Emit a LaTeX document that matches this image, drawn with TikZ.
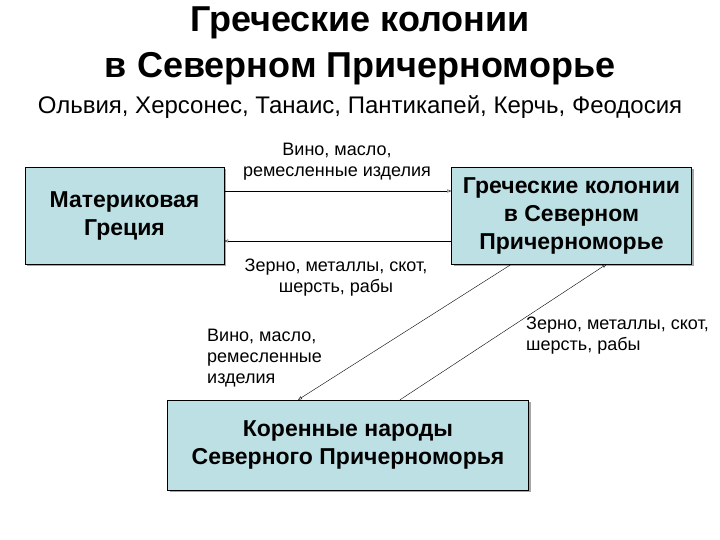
\documentclass[tikz,border=0pt]{standalone}
\usepackage{fontspec}
\setmainfont{Liberation Sans}
\usetikzlibrary{arrows.meta,shadows}
\definecolor{boxfill}{RGB}{189,224,228}
\tikzstyle{block} = [draw, fill=boxfill, rectangle, align=center,
    font=\fontsize{23}{28}\selectfont\bfseries,
    drop shadow={shadow xshift=2pt, shadow yshift=-2pt, fill=gray!70, opacity=1}]
\tikzstyle{goods} = [inner sep=0pt, font=\fontsize{18}{21}\selectfont]
\tikzstyle{flow} = [->, thin]

\begin{document}
\begin{tikzpicture}[x=1pt, y=-1pt, >={Triangle[open,length=4pt,width=3pt]}]
    \useasboundingbox (0,0) rectangle (720,540);
    \node [align=center, font=\fontsize{36}{46}\selectfont\bfseries] (title) at (360,46)
        {Греческие колонии\\в Северном Причерноморье};
    \node [font=\fontsize{24}{28}\selectfont] (cities) at (360,107)
        {Ольвия, Херсонес, Танаис, Пантикапей, Керчь, Феодосия};
    \node [block, minimum width=199pt, minimum height=97pt] (greece) at (124.5,215.5)
        {Материковая\\Греция};
    \node [block, minimum width=240pt, minimum height=97pt] (colonies) at (571.5,215.5)
        {Греческие колонии\\в Северном\\Причерноморье};
    \node [block, minimum width=361pt, minimum height=90pt] (natives) at (348,445)
        {Коренные народы\\Северного Причерноморья};
    % labels
    \node [goods, align=center] (exportA) at (337,162) {Вино, масло,\\ремесленные изделия};
    \node [goods, align=center] (importA) at (336,278) {Зерно, металлы, скот,\\шерсть, рабы};
    \node [goods, align=left, anchor=north west] (exportC) at (207,329) {Вино, масло,\\ремесленные\\изделия};
    \node [goods, align=left, anchor=north west] (importC) at (526,317) {Зерно, металлы, скот,\\шерсть, рабы};
    % flows
    \draw [flow] ([yshift=24.5pt]greece.east) -- ([yshift=24.5pt]colonies.west);
    \draw [flow] ([yshift=-25.5pt]colonies.west) -- ([yshift=-25.5pt]greece.east);
    \draw [flow] ([xshift=-60pt]colonies.south) -- ([xshift=-50pt]natives.north);
    \draw [flow] ([xshift=52pt]natives.north) -- ([xshift=35pt]colonies.south);
\end{tikzpicture}
\end{document}
